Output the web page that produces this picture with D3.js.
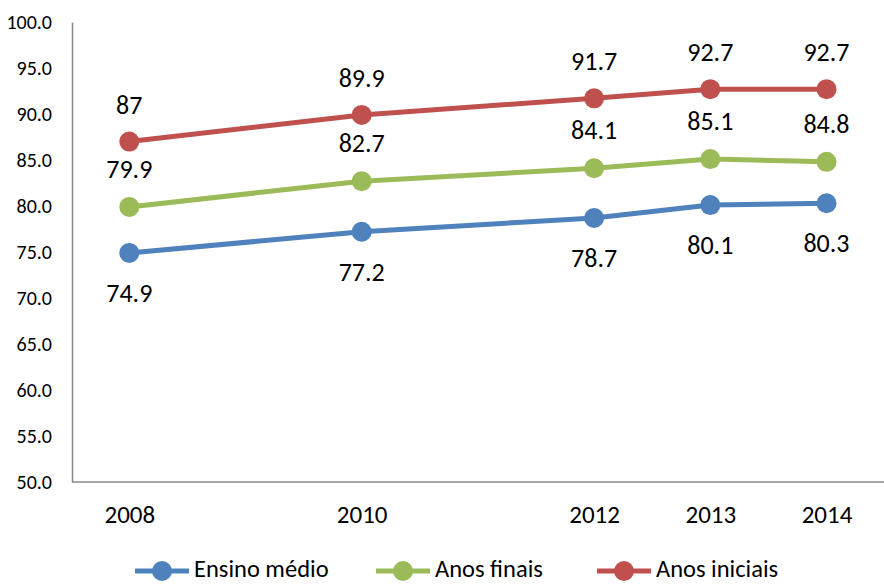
<!DOCTYPE html>
<html><head><meta charset="utf-8">
<script src="https://cdn.jsdelivr.net/npm/d3@7"></script>
<style>body{margin:0;background:#fff}svg{display:block}text{font-family:Carlito,Calibri,Lato,sans-serif;fill:#000}</style>
</head><body><svg id="c" width="884" height="584"></svg>
<script>
const years = [2008, 2010, 2012, 2013, 2014];
const yTicks = [50, 55, 60, 65, 70, 75, 80, 85, 90, 95, 100];
const seriesNames = ["Ensino médio", "Anos finais", "Anos iniciais"];
const ensinoMedio = [74.9, 77.2, 78.7, 80.1, 80.3];
const anosFinais = [79.9, 82.7, 84.1, 85.1, 84.8];
const anosIniciais = [87, 89.9, 91.7, 92.7, 92.7];
const colors = ["#4F81BD", "#9BBB59", "#C0504D"];
const labelTexts = [
  ["74.9", "77.2", "78.7", "80.1", "80.3"],
  ["79.9", "82.7", "84.1", "85.1", "84.8"],
  ["87", "89.9", "91.7", "92.7", "92.7"]
];

const FONT = "Carlito,Calibri,Lato,sans-serif";
const svg = d3.select("#c");
const x = d3.scaleLinear().domain([2008, 2014]).range([129.3, 826.5]);
const y = d3.scaleLinear().domain([50, 100]).range([482, 22]);

// axes
const yAxis = d3.axisLeft(y).tickValues(yTicks).tickSize(0).tickPadding(20).tickFormat(d3.format(".1f"));
const gy = svg.append("g").attr("transform", "translate(72,0)").call(yAxis);
gy.select(".domain").attr("stroke", "#888").attr("stroke-width", 1.5);
gy.selectAll("text").attr("font-size", 20).attr("font-family", FONT);

const gx = svg.append("g").attr("transform", "translate(0,482)")
  .call(d3.axisBottom(x).tickValues(years).tickSize(0).tickPadding(26).tickFormat(d3.format("d")));
gx.select(".domain").remove();
gx.selectAll("text").attr("font-size", 25).attr("font-family", FONT).attr("y", 41).attr("dy", 0);
svg.append("line").attr("x1", 72).attr("x2", 884).attr("y1", 482).attr("y2", 482)
  .attr("stroke", "#888").attr("stroke-width", 1.5);

const all = [ensinoMedio, anosFinais, anosIniciais];
const line = d3.line().x((d, i) => x(years[i])).y(d => y(d));
const offsets = [40, -38, -37];
all.forEach((vals, s) => {
  svg.append("path").datum(vals).attr("d", line).attr("fill", "none")
    .attr("stroke", colors[s]).attr("stroke-width", 5).attr("stroke-linejoin", "round");
  svg.selectAll(null).data(vals).enter().append("circle")
    .attr("cx", (d, i) => x(years[i])).attr("cy", d => y(d)).attr("r", 10).attr("fill", colors[s]);
  svg.selectAll(null).data(vals).enter().append("text")
    .attr("x", (d, i) => x(years[i])).attr("y", d => y(d) + offsets[s])
    .attr("text-anchor", "middle").attr("dominant-baseline", "central")
    .attr("font-size", 26).text((d, i) => labelTexts[s][i]);
});

// legend
const legendMarkers = [162, 403, 624];
seriesNames.forEach((name, s) => {
  const cx = legendMarkers[s];
  const g = svg.append("g");
  g.append("line").attr("x1", cx - 27).attr("x2", cx + 27).attr("y1", 571).attr("y2", 571)
    .attr("stroke", colors[s]).attr("stroke-width", 5);
  g.append("circle").attr("cx", cx).attr("cy", 571).attr("r", 10).attr("fill", colors[s]);
  g.append("text").attr("x", cx + 32).attr("y", 569).attr("dominant-baseline", "central")
    .attr("font-size", 24.5).text(name);
});
</script></body></html>
